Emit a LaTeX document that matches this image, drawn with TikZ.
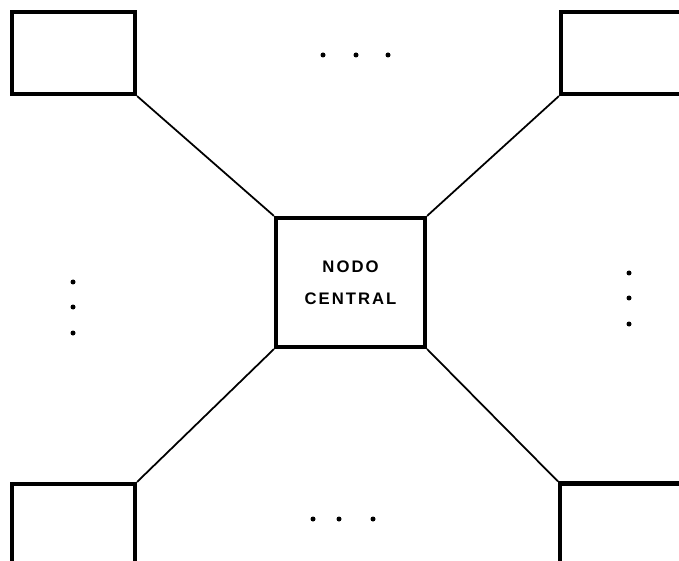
\documentclass[tikz,border=0pt]{standalone}
\usepackage{fontspec}
\setmainfont{Liberation Sans}
\usepackage{tikz}
\usetikzlibrary{positioning,calc}

\begin{document}
\begin{tikzpicture}[
    station/.style={draw, line width=2.4pt, rectangle, inner sep=0pt},
    link/.style={line width=1pt},
    dot/.style={circle, fill, inner sep=0pt, minimum size=0.1cm}
]
    \clip (0,0) rectangle (13.58,11.2);

    % Central node
    \node[station, minimum width=2.98cm, minimum height=2.58cm,
          align=center, font={\bfseries\addfontfeatures{LetterSpace=12}\fontsize{9.5}{18.2}\selectfont}]
          (central) at (7.01,5.55) {NODO\\CENTRAL};

    % Outer nodes (partly cut by the border)
    \node[station, minimum width=2.46cm, minimum height=1.64cm] (tl) at (1.47,10.14) {};
    \node[station, minimum width=2.58cm, minimum height=1.64cm] (tr) at (12.51,10.14) {};
    \node[station, minimum width=2.46cm, minimum height=1.82cm] (bl) at (1.47,0.61) {};
    \node[station, minimum width=2.60cm, minimum height=1.84cm] (br) at (12.50,0.61) {};

    % Links to the centre
    \draw[link] (tl.south east) -- (central.north west);
    \draw[link] (tr.south west) -- (central.north east);
    \draw[link] (bl.north east) -- (central.south west);
    \draw[link] (br.north west) -- (central.south east);

    % Dots for the omitted nodes
    \foreach \x/\y [count=\i] in {6.46/10.1, 7.12/10.1, 7.76/10.1,
                                  6.26/0.82, 6.78/0.82, 7.46/0.82,
                                  1.46/5.56, 1.46/5.06, 1.46/4.54,
                                  12.58/5.74, 12.58/5.24, 12.58/4.72}
        \node[dot] (d\i) at (\x,\y) {};
\end{tikzpicture}
\end{document}
